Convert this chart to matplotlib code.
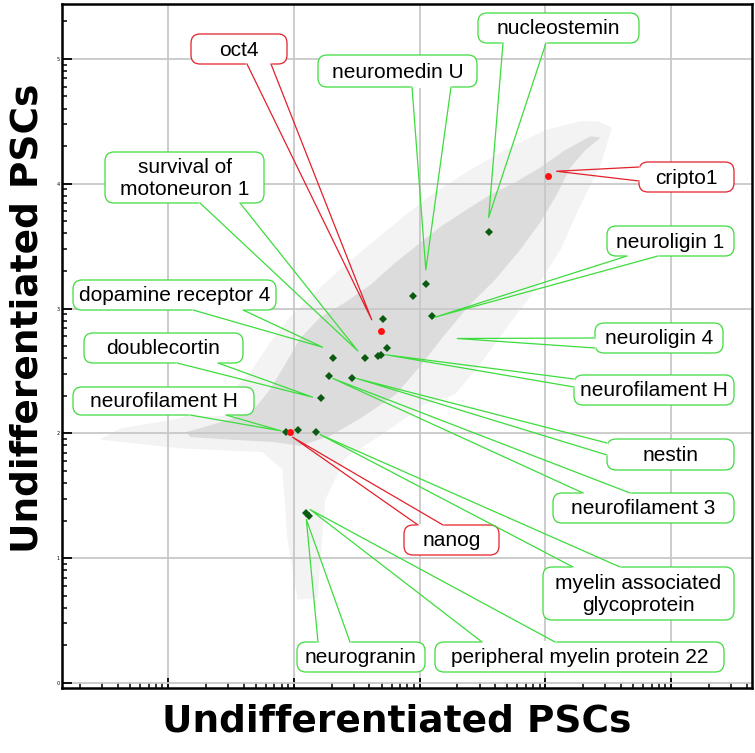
import numpy as np
import matplotlib

matplotlib.use("Agg")
import matplotlib.pyplot as plt
from matplotlib import transforms
from matplotlib.patches import FancyBboxPatch, Polygon
from matplotlib.ticker import FuncFormatter, LogLocator, NullFormatter

W, H = 755, 753
GREEN = "#3ddc3d"
RED = "#e3202a"

# ── data (log10 expression, x = undiff PSCs, y = undiff PSCs) ──
green_x = [3.55, 3.05, 2.95, 3.10, 2.71, 2.31, 2.57, 2.67, 2.69, 2.74,
           2.28, 2.46, 2.22, 1.94, 2.03, 2.18, 2.10, 2.12]
green_y = [3.61, 3.20, 3.10, 2.94, 2.92, 2.60, 2.60, 2.62, 2.63, 2.68,
           2.46, 2.44, 2.28, 2.01, 2.03, 2.01, 1.36, 1.34]
red_x = [1.97, 2.69, 4.02]   # nanog, oct4, cripto1
red_y = [2.01, 2.82, 4.06]

# bulk of probes: dense core and sparse halo outlines
core_x = [1.18, 1.49, 1.85, 2.05, 2.29, 2.53, 2.81, 2.99, 3.20, 3.40, 3.60,
          3.80, 3.96, 4.09, 4.20, 4.32, 4.44, 4.36, 4.16, 3.96, 3.76, 3.56,
          3.34, 3.16, 2.96, 2.81, 2.61, 2.41, 2.21, 2.05, 1.93, 1.81, 1.69,
          1.49, 1.25, 1.14]
core_y = [1.97, 1.95, 1.93, 1.90, 1.98, 2.12, 2.31, 2.52, 2.79, 3.03, 3.23,
          3.47, 3.69, 3.91, 4.13, 4.27, 4.37, 4.38, 4.27, 4.13, 4.01, 3.91,
          3.77, 3.65, 3.49, 3.37, 3.19, 3.05, 2.93, 2.76, 2.55, 2.35, 2.20,
          2.11, 2.04, 2.01]
halo_x = [0.46, 1.10, 1.75, 1.91, 1.95, 2.03, 2.19, 2.25, 2.41, 2.73, 3.04,
          3.28, 3.48, 3.68, 3.92, 4.12, 4.28, 4.44, 4.53, 4.42, 4.28, 4.00,
          3.68, 3.40, 3.12, 2.89, 2.65, 2.41, 2.17, 1.97, 1.80, 1.64, 1.45,
          1.10, 0.62]
halo_y = [1.95, 1.88, 1.85, 1.71, 1.15, 0.67, 0.68, 1.47, 1.80, 2.01, 2.23,
          2.31, 2.55, 2.83, 3.15, 3.47, 3.83, 4.15, 4.45, 4.50, 4.50, 4.43,
          4.27, 4.11, 3.93, 3.75, 3.55, 3.35, 3.13, 2.93, 2.71, 2.47, 2.28,
          2.12, 2.04]

# callouts: label, target (log10), red or green
labels = ["oct4", "neuromedin U", "nucleostemin", "cripto1",
          "survival of\nmotoneuron 1", "neuroligin 1", "dopamine receptor 4",
          "neuroligin 4", "doublecortin", "neurofilament H", "neurofilament H",
          "nestin", "neurofilament 3", "nanog",
          "myelin associated\nglycoprotein", "neurogranin",
          "peripheral myelin protein 22"]
target_x = [2.62, 3.05, 3.55, 4.09, 2.51, 3.12, 2.23, 3.30, 2.15, 1.90,
            2.73, 2.50, 2.31, 1.99, 2.21, 2.10, 2.13]
target_y = [2.91, 3.31, 3.73, 4.10, 2.66, 2.93, 2.69, 2.76, 2.29, 2.02,
            2.63, 2.44, 2.44, 1.97, 1.99, 1.31, 1.39]
is_red = [True, False, False, True, False, False, False, False, False,
          False, False, False, False, True, False, False, False]

# box layout in image pixels (x0, y0, x1, y1) and the two wedge base points
boxes = [(191, 34, 287, 64), (318, 55, 477, 87), (478, 13, 639, 43),
         (639, 162, 734, 192), (105, 152, 264, 203), (607, 226, 734, 256),
         (73, 280, 276, 310), (595, 323, 723, 353), (84, 333, 243, 363),
         (73, 387, 254, 415), (574, 375, 734, 405), (607, 439, 734, 470),
         (553, 493, 734, 523), (404, 525, 499, 555), (543, 567, 734, 620),
         (297, 642, 425, 672), (435, 642, 724, 672)]
bases = [((247, 64), (271, 64)), ((412, 87), (451, 87)), ((503, 43), (546, 43)),
         ((639, 167), (639, 181)), ((200, 203), (240, 203)),
         ((627, 256), (658, 256)), ((193, 310), (243, 310)),
         ((595, 338), (595, 348)), ((177, 363), (218, 363)),
         ((190, 415), (226, 415)), ((574, 379), (574, 387)),
         ((607, 443), (607, 455)), ((583, 493), (630, 493)),
         ((418, 525), (443, 525)), ((573, 567), (620, 567)),
         ((318, 642), (350, 642)), ((482, 642), (555, 642))]

XLIM = (0.157, 5.644)
YLIM = (-0.04, 5.44)

fig = plt.figure(figsize=(W / 100, H / 100), dpi=100)
ax = fig.add_axes([62 / W, (H - 688) / H, 690 / W, 684 / H])
pix = transforms.Affine2D().scale(1 / W, -1 / H).translate(0, 1) + fig.transFigure

ax.set_xscale("log")
ax.set_yscale("log")
ax.set_xlim(10 ** XLIM[0], 10 ** XLIM[1])
ax.set_ylim(10 ** YLIM[0], 10 ** YLIM[1])

# probe cloud
ax.add_patch(Polygon(np.column_stack([10 ** np.array(halo_x), 10 ** np.array(halo_y)]),
                     closed=True, fc="#f3f3f3", ec="none", zorder=0.2))
ax.add_patch(Polygon(np.column_stack([10 ** np.array(core_x), 10 ** np.array(core_y)]),
                     closed=True, fc="#dcdcdc", ec="none", zorder=0.3))

ax.plot(10 ** np.array(green_x), 10 ** np.array(green_y), "D", color="#0b5a12",
        markersize=4.5, markeredgewidth=0, zorder=3)
ax.plot(10 ** np.array(red_x), 10 ** np.array(red_y), "o", color="#ff1010",
        markersize=5, markeredgewidth=0, zorder=3)

# axes styling
ax.set_axisbelow(True)
ax.grid(True, which="major", color="#c8c8c8", linewidth=1.3)
for s in ax.spines.values():
    s.set_linewidth(1.8)
    s.set_color("black")
for axis in (ax.xaxis, ax.yaxis):
    axis.set_major_locator(LogLocator(base=10, numticks=20))
    axis.set_minor_locator(LogLocator(base=10, subs=range(2, 10), numticks=20))
    axis.set_minor_formatter(NullFormatter())
ax.yaxis.set_major_formatter(FuncFormatter(lambda v, p: f"{int(round(np.log10(v)))}"))
ax.xaxis.set_major_formatter(NullFormatter())
ax.tick_params(which="major", direction="in", length=7, width=1.3,
               labelsize=3.5, pad=1.5)
ax.tick_params(which="minor", direction="in", length=3.5, width=1.1)

# callouts
fig.canvas.draw()
for i, text in enumerate(labels):
    col = RED if is_red[i] else GREEN
    x0, y0, x1, y1 = boxes[i]
    box = FancyBboxPatch((x0, y0), x1 - x0, y1 - y0,
                         boxstyle="round,pad=0,rounding_size=9",
                         transform=pix, fc="white", ec=col, lw=0.9,
                         zorder=5, clip_on=False)
    fig.add_artist(box)
    tip_disp = ax.transData.transform((10 ** target_x[i], 10 ** target_y[i]))
    tx, ty = pix.inverted().transform(tip_disp)
    (bx1, by1), (bx2, by2) = bases[i]
    fig.add_artist(plt.Line2D([bx1, bx2], [by1, by2], transform=pix,
                              color="white", lw=1.6, zorder=5.5))
    fig.add_artist(plt.Line2D([bx1, tx, bx2], [by1, ty, by2], transform=pix,
                              color=col, lw=0.9, zorder=6))
    fig.text((x0 + x1) / 2, (y0 + y1) / 2 + 1, text, transform=pix,
             ha="center", va="center", fontsize=15, family="Liberation Sans",
             linespacing=1.2, zorder=7)

# axis titles
fig.text(397, 722, "Undifferentiated PSCs", transform=pix, ha="center",
         va="center", fontsize=27, fontweight="bold", family="DejaVu Sans")
fig.text(28, 318, "Undifferentiated PSCs", transform=pix, ha="center",
         va="center", fontsize=27, fontweight="bold", family="DejaVu Sans",
         rotation=90)

fig.savefig("out.png", dpi=100)
